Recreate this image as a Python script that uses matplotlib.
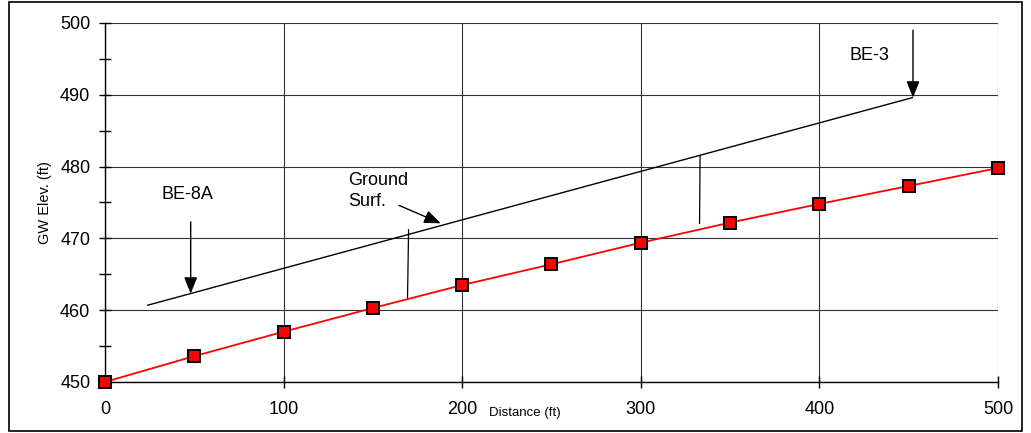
import numpy as np
import matplotlib.pyplot as plt
from matplotlib.patches import Rectangle

plt.rcParams['font.family'] = ['Liberation Sans', 'DejaVu Sans']

# groundwater elevation along the section
dist = [0, 50, 100, 150, 200, 250, 300, 350, 400, 450, 500]
gw_elev = [450.0, 453.6, 457.0, 460.3, 463.5, 466.4, 469.4, 472.2, 474.8, 477.3, 479.8]

# ground surface between the two wells
ground_x = [24, 452]
ground_y = [460.7, 489.6]

fig = plt.figure(figsize=(10.31, 4.33), dpi=100)
ax = fig.add_axes([0.1018, 0.1178, 0.8662, 0.8291])

ax.plot(dist, gw_elev, color='red', lw=1.3, marker='s', ms=8.3,
        mfc='red', mec='black', mew=1.4, zorder=4, clip_on=False)
ax.plot(ground_x, ground_y, color='black', lw=1.0, zorder=3)

ax.set_xlim(0, 500)
ax.set_ylim(450, 500)
ax.set_xticks(np.arange(0, 501, 100))
ax.set_yticks(np.arange(450, 501, 10))
ax.set_yticks(np.arange(455, 500, 10), minor=True)
ax.grid(True, which='major', color='#333333', lw=0.8)

for s in ['top', 'right']:
    ax.spines[s].set_visible(False)
for s in ['left', 'bottom']:
    ax.spines[s].set_linewidth(1.0)

ax.tick_params(axis='both', which='major', direction='inout', length=9,
               width=1.0, labelsize=13)
ax.tick_params(axis='y', which='minor', direction='inout', length=9, width=1.0)
ax.tick_params(axis='x', pad=9)
ax.tick_params(axis='y', pad=6)

ax.set_ylabel('GW Elev. (ft)', fontsize=10.5, labelpad=6)
ax.text(0.47, -0.07, 'Distance (ft)', transform=ax.transAxes, fontsize=9.5,
        ha='center', va='top')

arrow = dict(arrowstyle='-|>,head_length=1.0,head_width=0.4', color='black',
             lw=1.0, shrinkA=0, shrinkB=0)

# well labels
ax.text(46, 476.1, 'BE-8A', fontsize=13, ha='center', va='center')
ax.annotate('', xy=(48, 462.3), xytext=(48, 472.3), arrowprops=arrow)
ax.text(428, 495.5, 'BE-3', fontsize=13, ha='center', va='center')
ax.annotate('', xy=(452.4, 489.6), xytext=(452.4, 499.0), arrowprops=arrow)

ax.text(136, 476.6, 'Ground\nSurf.', fontsize=13, ha='left', va='center',
        linespacing=1.25)
ax.annotate('', xy=(188, 472.1), xytext=(164.6, 474.6), arrowprops=arrow)

# unsaturated thickness markers
ax.plot([170, 169.4], [471.2, 461.7], color='black', lw=0.9)
ax.plot([333.2, 332.9], [481.5, 472.1], color='black', lw=0.9)

fig.patches.append(Rectangle((0.0087, 0.0046), 0.9826, 0.9919,
                             transform=fig.transFigure, fill=False,
                             edgecolor='black', lw=1.2))

fig.savefig('out.png', dpi=100)
